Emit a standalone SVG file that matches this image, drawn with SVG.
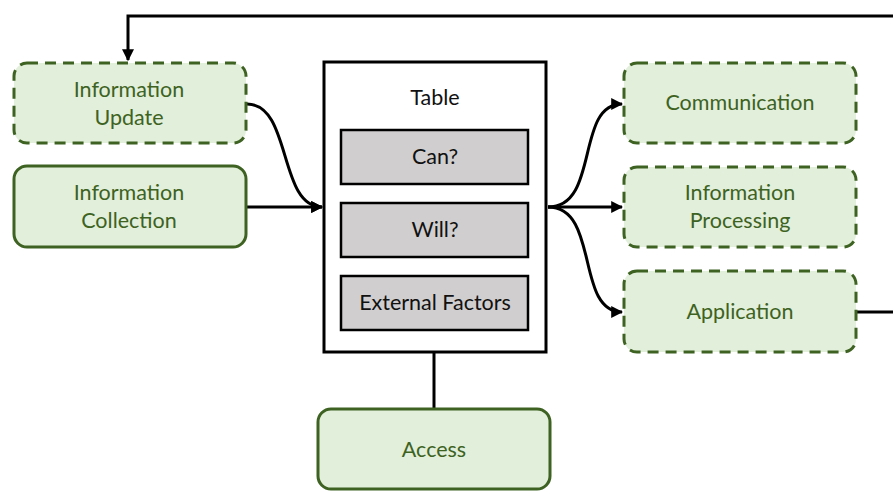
<svg xmlns="http://www.w3.org/2000/svg" width="893" height="491" viewBox="0 0 893 491">
  <defs>
    <marker id="arrow" viewBox="0 0 10 10" refX="9" refY="5" markerWidth="4" markerHeight="4" orient="auto" markerUnits="strokeWidth">
      <path d="M0,0 L10,5 L0,10 z" fill="#000"/>
    </marker>
    <style>
      .node { fill: #e2efda; stroke: #3d6222; stroke-width: 3; }
      .dashed { stroke-dasharray: 11 7; }
      .label { font-family: Lato, "Open Sans", "Liberation Sans", sans-serif; font-size: 21.5px; fill: #3d6222; text-anchor: middle; }
      .dark { fill: #111; }
      .table { fill: #fff; stroke: #000; stroke-width: 3; }
      .cell { fill: #d0cece; stroke: #000; stroke-width: 2.5; }
      .edge { fill: none; stroke: #000; stroke-width: 3; }
    </style>
  </defs>
  <rect width="893" height="491" fill="#fff"/>

  <g id="connectors">
    <path class="edge" d="M893,16 H128 V60" marker-end="url(#arrow)"/>
    <path class="edge" d="M247,104 C292,104 278,207 322,207" marker-end="url(#arrow)"/>
    <path class="edge" d="M247,207 H322" marker-end="url(#arrow)"/>
    <path class="edge" d="M548,207 C600,207 575,104 622,104" marker-end="url(#arrow)"/>
    <path class="edge" d="M548,207 H622" marker-end="url(#arrow)"/>
    <path class="edge" d="M548,207 C600,207 575,312 622,312" marker-end="url(#arrow)"/>
    <path class="edge" d="M857,312 H893"/>
    <path class="edge" d="M434,352 V408"/>
  </g>

  <g id="information-update">
    <rect class="node dashed" x="14" y="63" width="232" height="80" rx="13"/>
    <text class="label" x="129" y="97">Information</text>
    <text class="label" x="129" y="125">Update</text>
  </g>
  <g id="information-collection">
    <rect class="node" x="14" y="166" width="232" height="81" rx="13"/>
    <text class="label" x="129" y="200">Information</text>
    <text class="label" x="129" y="228">Collection</text>
  </g>

  <g id="table">
    <rect class="table" x="324" y="62" width="222" height="290"/>
    <text class="label dark" x="435" y="105">Table</text>
    <rect class="cell" x="341" y="130" width="187" height="54"/>
    <text class="label dark" x="435" y="164">Can?</text>
    <rect class="cell" x="341" y="203" width="187" height="54"/>
    <text class="label dark" x="435" y="237">Will?</text>
    <rect class="cell" x="341" y="276" width="187" height="54"/>
    <text class="label dark" x="435" y="310">External Factors</text>
  </g>

  <g id="communication">
    <rect class="node dashed" x="624" y="63" width="232" height="80" rx="13"/>
    <text class="label" x="740" y="110">Communication</text>
  </g>
  <g id="information-processing">
    <rect class="node dashed" x="624" y="167" width="232" height="80" rx="13"/>
    <text class="label" x="740" y="200">Information</text>
    <text class="label" x="740" y="228">Processing</text>
  </g>
  <g id="application">
    <rect class="node dashed" x="624" y="271" width="232" height="81" rx="13"/>
    <text class="label" x="740" y="319">Application</text>
  </g>

  <g id="access">
    <rect class="node" x="318" y="409" width="232" height="80" rx="13"/>
    <text class="label" x="434" y="457">Access</text>
  </g>
</svg>
